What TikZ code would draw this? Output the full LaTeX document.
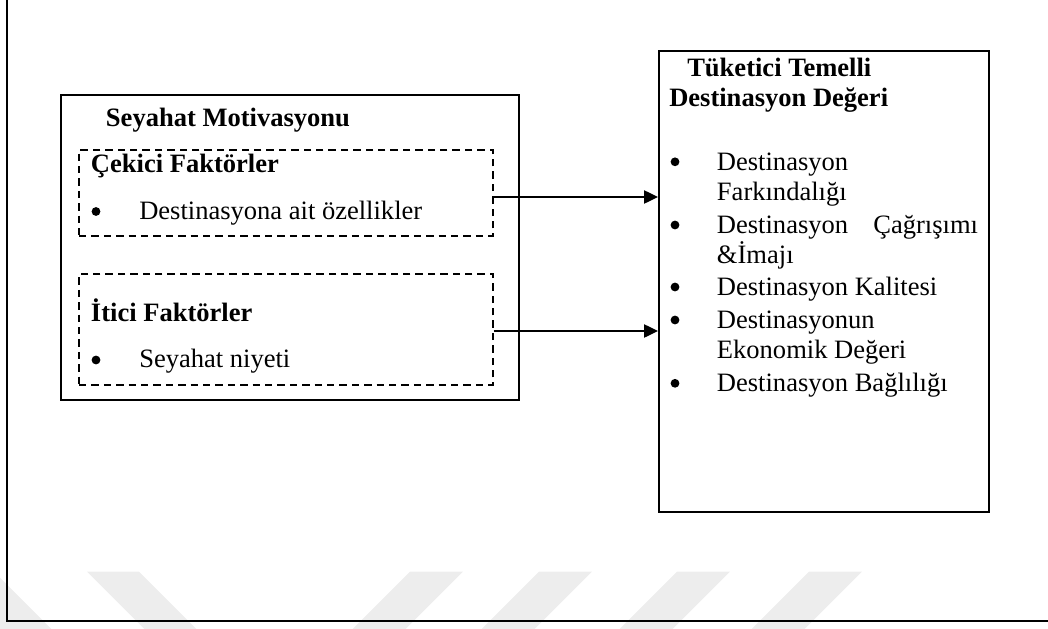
\documentclass[tikz,border=0pt]{standalone}
\usepackage{fontspec}
\setmainfont{Liberation Serif}
\usetikzlibrary{arrows.meta,fit}
\definecolor{markgray}{HTML}{EDEDED}
\begin{document}
\begin{tikzpicture}[x=0.75pt,y=-0.75pt,
  txt/.style={anchor=base west, inner sep=0pt, font=\fontsize{19.9pt}{24pt}\selectfont},
  hdr/.style={anchor=base west, inner sep=0pt, font=\fontsize{19.9pt}{24pt}\selectfont\bfseries},
  bul/.style={circle, fill=black, inner sep=0pt, minimum size=6.6pt},
  solidbox/.style={draw, line width=1.2pt, inner sep=0pt},
  dashbox/.style={draw, line width=1pt, dash pattern=on 5.5pt off 3.8pt, inner sep=0pt},
  link/.style={line width=1pt, -{Triangle[length=10.5pt,width=10pt]}},
  stripe/.style={fill=markgray, draw=none}]

\path[use as bounding box] (0,0) rectangle (1048,628);
\clip (0,0) rectangle (1048,628);

% faint diagonal bands along the lower edge
\fill[stripe] (-58,571.7) -- (-6,571.7) -- (54,631.7) -- (2,631.7) -- cycle;
\fill[stripe] (87,571.7) -- (139,571.7) -- (199,631.7) -- (147,631.7) -- cycle;
\foreach \sx in {410,539,677,809}{
  \fill[stripe] (\sx,571.7) -- (\sx+53,571.7) -- (\sx-7,631.7) -- (\sx-60,631.7) -- cycle;
}

% page frame (left and bottom sides)
\draw[line width=1.7pt] (7,-5) -- (7,621.2) -- (1060,621.2);

% travel motivation block
\node[solidbox, fit={(61,95) (519,400)}] (motiv) {};
\node[hdr] (motivtitle) at (105.7,126) {Seyahat Motivasyonu};

\node[dashbox, fit={(79,150) (493,236)}] (pull) {};
\node[hdr] (pulltitle) at (90.7,172) {Çekici Faktörler};
\node[bul] (pullb) at (96,211.5) {};
\node[txt] (pullitem) at (139,219) {Destinasyona ait özellikler};

\node[dashbox, fit={(79,274) (493,385)}] (push) {};
\node[hdr] (pushtitle) at (90.7,321) {İtici Faktörler};
\node[bul] (pushb) at (96,360) {};
\node[txt] (pushitem) at (139,367.7) {Seyahat niyeti};

% consumer based destination value block
\node[draw, line width=1.5pt, inner sep=0pt, fit={(659,51) (989,512)}] (cbdv) {};
\node[hdr] (cbdvt1) at (687,76) {Tüketici Temelli};
\node[hdr] (cbdvt2) at (669,106.7) {Destinasyon Değeri};

\node[bul] (vb1) at (675,161.8) {};
\node[txt] (v1a) at (716.7,170) {Destinasyon};
\node[txt] (v1b) at (716.7,200.5) {Farkındalığı};
\node[bul] (vb2) at (675,225) {};
\node[txt] (v2a) at (716.7,233.3) {Destinasyon};
\node[txt, anchor=base east] (v2c) at (978.3,233.3) {Çağrışımı};
\node[txt] (v2b) at (716.7,263) {\&İmajı};
\node[bul] (vb3) at (675,287) {};
\node[txt] (v3) at (716.7,295) {Destinasyon Kalitesi};
\node[bul] (vb4) at (675,320) {};
\node[txt] (v4a) at (716.7,328.3) {Destinasyonun};
\node[txt] (v4b) at (716.7,358.3) {Ekonomik Değeri};
\node[bul] (vb5) at (675,383.3) {};
\node[txt] (v5) at (716.7,391.7) {Destinasyon Bağlılığı};

% connectors
\coordinate (lvl1) at (0,197);
\coordinate (lvl2) at (0,331);
\draw[link] (pull.east |- lvl1) -- (cbdv.west |- lvl1);
\draw[link] (push.east |- lvl2) -- (cbdv.west |- lvl2);
\end{tikzpicture}
\end{document}
